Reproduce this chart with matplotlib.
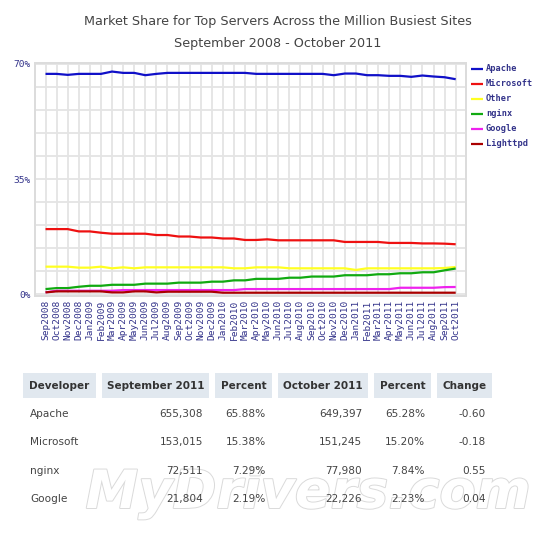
import matplotlib
matplotlib.use("Agg")
import matplotlib.pyplot as plt
import matplotlib.patheffects as pe
from matplotlib.patches import Rectangle
import numpy as np

months = ["Sep2008", "Oct2008", "Nov2008", "Dec2008", "Jan2009", "Feb2009", "Mar2009",
          "Apr2009", "May2009", "Jun2009", "Jul2009", "Aug2009", "Sep2009", "Oct2009",
          "Nov2009", "Dec2009", "Jan2010", "Feb2010", "Mar2010", "Apr2010", "May2010",
          "Jun2010", "Jul2010", "Aug2010", "Sep2010", "Oct2010", "Nov2010", "Dec2010",
          "Jan2011", "Feb2011", "Mar2011", "Apr2011", "May2011", "Jun2011", "Jul2011",
          "Aug2011", "Sep2011", "Oct2011"]

apache = [66.9, 66.9, 66.6, 66.9, 66.9, 66.9,
          67.6, 67.2, 67.2, 66.5, 66.9, 67.2,
          67.2, 67.2, 67.2, 67.2, 67.2, 67.2, 67.2,
          66.9, 66.9, 66.9, 66.9, 66.9, 66.9, 66.9,
          66.5, 67.0, 67.0, 66.5, 66.5, 66.3, 66.3,
          66.0, 66.4, 66.1, 65.88, 65.28]
microsoft = [19.8, 19.8, 19.8, 19.1, 19.1, 18.7, 18.4, 18.4, 18.4, 18.4,
             18.0, 18.0, 17.55, 17.55, 17.25, 17.25, 16.95, 16.95, 16.5, 16.5,
             16.7, 16.4, 16.4, 16.4, 16.4, 16.4, 16.4, 15.9, 15.9, 15.9,
             15.9, 15.6, 15.6, 15.6, 15.45, 15.45, 15.38, 15.20]
other = [8.4, 8.4, 8.4, 8.1, 8.1, 8.4, 7.9, 8.2, 7.9, 8.2,
         8.2, 8.2, 8.2, 8.2, 8.2, 8.2, 8.2, 7.9, 7.9, 8.2,
         8.2, 8.2, 7.9, 7.9, 7.9, 7.9, 7.9, 7.9, 7.4, 7.9,
         7.9, 7.9, 7.9, 7.9, 7.9, 7.9, 8.0, 8.3]
nginx = [1.6, 1.9, 1.9, 2.3, 2.6, 2.6, 2.9, 2.9, 2.9, 3.25,
         3.25, 3.25, 3.55, 3.55, 3.55, 3.85, 3.85, 4.25, 4.25, 4.7,
         4.7, 4.7, 5.05, 5.05, 5.4, 5.4, 5.4, 5.8, 5.8, 5.8,
         6.1, 6.1, 6.4, 6.4, 6.7, 6.7, 7.29, 7.84]
google = [0.6, 1.1, 1.1, 1.1, 1.1, 1.1, 1.1, 1.3, 1.3, 1.3,
          1.3, 1.3, 1.3, 1.3, 1.3, 1.3, 1.3, 1.3, 1.6, 1.6,
          1.6, 1.6, 1.6, 1.6, 1.6, 1.6, 1.6, 1.6, 1.6, 1.6,
          1.6, 1.6, 2.0, 2.0, 2.0, 2.0, 2.19, 2.23]
lighttpd = [0.6, 0.9, 0.9, 0.9, 0.9, 0.9, 0.6, 0.6, 0.9, 0.9,
            0.6, 0.8, 0.8, 0.8, 0.8, 0.8] + [0.5] * 22

series_names = ["Apache", "Microsoft", "Other", "nginx", "Google", "Lighttpd"]
series_colors = ["#1010c8", "#ee1111", "#ffff22", "#11aa11", "#ee22ee", "#aa0000"]
series_values = [apache, microsoft, other, nginx, google, lighttpd]

y_ticks = [0, 35, 70]
y_tick_labels = ["0%", "35%", "70%"]

title_lines = ["Market Share for Top Servers Across the Million Busiest Sites",
               "September 2008 - October 2011"]

table_header = ["Developer", "September 2011", "Percent", "October 2011", "Percent", "Change"]
developers = ["Apache", "Microsoft", "nginx", "Google"]
sep2011 = ["655,308", "153,015", "72,511", "21,804"]
sep_pct = ["65.88%", "15.38%", "7.29%", "2.19%"]
oct2011 = ["649,397", "151,245", "77,980", "22,226"]
oct_pct = ["65.28%", "15.20%", "7.84%", "2.23%"]
change = ["-0.60", "-0.18", "0.55", "0.04"]

W, H = 550, 533
fig = plt.figure(figsize=(W / 100, H / 100), dpi=100)
fig.patch.set_facecolor("white")

navy = "#33338a"
mono = "DejaVu Sans Mono"

# chart axes
L, R, T, B = 35, 466, 63, 296
ax = fig.add_axes([L / W, 1 - B / H, (R - L) / W, (B - T) / H])
x = np.arange(len(months))
for name, col, vals in zip(series_names, series_colors, series_values):
    ax.plot(x, vals, color=col, lw=1.6, solid_capstyle="butt", zorder=3)
ax.set_xlim(-0.95, len(months) - 1 + 0.93)
ax.set_ylim(-0.5, 70.2)
ax.set_xticks(x)
ax.set_xticklabels(months, rotation=90, fontsize=6.8, family=mono, color=navy)
ax.set_yticks(np.arange(0, 71, 7), minor=True)
ax.set_yticks(y_ticks)
ax.set_yticklabels(y_tick_labels, fontsize=6.8, family=mono, color=navy)
ax.tick_params(length=0, pad=3)
ax.tick_params(axis="y", which="minor", length=0)
ax.grid(True, which="both", color="#e4e4e4", lw=1.3)
ax.set_axisbelow(True)
for s in ax.spines.values():
    s.set_color("#dcdcdc")
    s.set_linewidth(1.4)

# overlay axes in pixel coordinates
ov = fig.add_axes([0, 0, 1, 1], zorder=5)
ov.set_xlim(0, W)
ov.set_ylim(H, 0)
ov.axis("off")

# title
ov.text(W / 2 + 3, 22, title_lines[0], ha="center", va="center", fontsize=9.2,
        color="#444444", family="DejaVu Sans")
ov.text(W / 2 + 3, 44, title_lines[1], ha="center", va="center", fontsize=9.2,
        color="#444444", family="DejaVu Sans")

# legend
for i, (name, col) in enumerate(zip(series_names, series_colors)):
    yy = 68.5 + 15 * i
    ov.plot([471, 483], [yy, yy], color=col, lw=1.6, solid_capstyle="butt")
    ov.text(486, yy, name, ha="left", va="center", fontsize=6.2, family=mono,
            color=navy, fontweight="bold")

# watermark (drawn behind the table text)
wm = ov.text(308, 493, "MyDrivers.com", ha="center", va="center", fontsize=38,
             fontweight="bold", style="italic", color="white",
             family="DejaVu Sans", zorder=1)
wm.set_path_effects([pe.withStroke(linewidth=1.4, foreground="#dadada")])

# table
col_boxes = [(23, 96), (102, 209), (215, 272), (278, 368), (374, 431), (437, 492)]
for (x0, x1), h in zip(col_boxes, table_header):
    ov.add_patch(Rectangle((x0, 373), x1 - x0, 25, facecolor="#e1e8ef", edgecolor="none"))
    ov.text((x0 + x1) / 2, 386, h, ha="center", va="center", fontsize=7.5,
            fontweight="bold", color="#333333", family="DejaVu Sans", zorder=3)

row_y = [414, 442, 471, 499]
cols = [sep2011, sep_pct, oct2011, oct_pct, change]
for r, yy in enumerate(row_y):
    ov.text(30, yy, developers[r], ha="left", va="center", fontsize=7.6,
            color="#444444", family="DejaVu Sans", zorder=3)
    for c, vals in enumerate(cols):
        x1 = col_boxes[c + 1][1] - 6
        ov.text(x1, yy, vals[r], ha="right", va="center", fontsize=7.6,
                color="#444444", family="DejaVu Sans", zorder=3)

fig.savefig("out.png", dpi=100, facecolor="white")
